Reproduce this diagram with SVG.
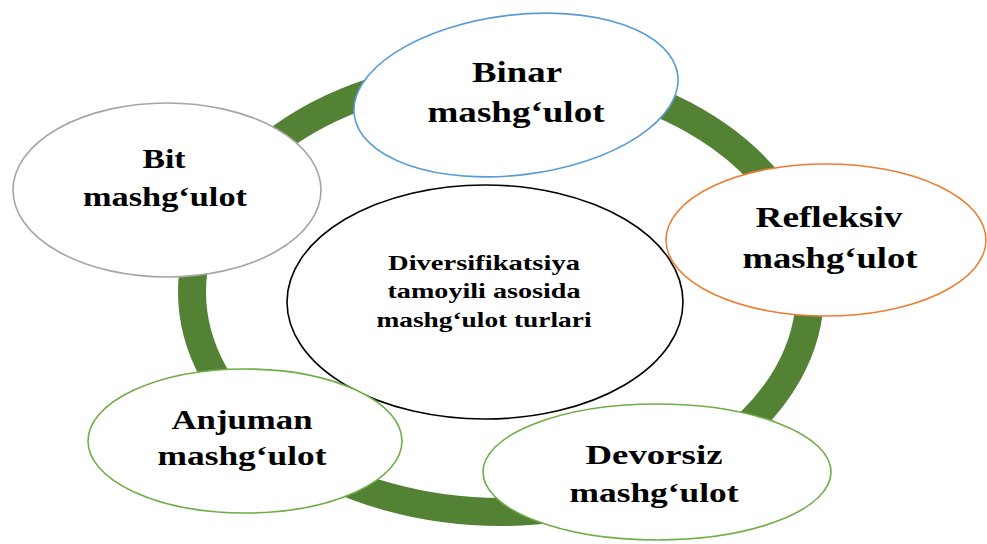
<svg xmlns="http://www.w3.org/2000/svg" width="987" height="544" viewBox="0 0 987 544">
<style>
.node{fill:#ffffff;stroke-width:1.6}
.t{font-family:"Liberation Serif","Times New Roman",serif;font-weight:bold;fill:#000;text-anchor:middle}
.big{font-size:29px}
.mid{font-size:27px}
.sm{font-size:22px}
</style>
<rect width="987" height="544" fill="#ffffff"/>
<g id="connectors">
<ellipse cx="501" cy="292" rx="309" ry="220" fill="none" stroke="#548235" stroke-width="28"/>
</g>
<g id="center">
<ellipse class="node" cx="485" cy="302" rx="198" ry="117" stroke="#000000" stroke-width="1.8"/>
<text class="t sm" x="484" y="270" textLength="192" lengthAdjust="spacingAndGlyphs">Diversifikatsiya</text>
<text class="t sm" x="484" y="298" textLength="193" lengthAdjust="spacingAndGlyphs">tamoyili asosida</text>
<text class="t sm" x="484" y="327" textLength="215" lengthAdjust="spacingAndGlyphs">mashg‘ulot turlari</text>
</g>
<g id="binar">
<ellipse class="node" cx="516" cy="95" rx="163" ry="80" transform="rotate(-7 516 95)" stroke="#5B9BD5"/>
<text class="t big" x="517" y="82" textLength="90" lengthAdjust="spacingAndGlyphs">Binar</text>
<text class="t big" x="516" y="122" textLength="177" lengthAdjust="spacingAndGlyphs">mashg‘ulot</text>
</g>
<g id="refleksiv">
<ellipse class="node" cx="826" cy="240" rx="160" ry="76" stroke="#ED7D31"/>
<text class="t big" x="829" y="227" textLength="147" lengthAdjust="spacingAndGlyphs">Refleksiv</text>
<text class="t big" x="830" y="268" textLength="175" lengthAdjust="spacingAndGlyphs">mashg‘ulot</text>
</g>
<g id="devorsiz">
<ellipse class="node" cx="657" cy="472" rx="174" ry="68" stroke="#70AD47"/>
<text class="t mid" x="654" y="464" textLength="137" lengthAdjust="spacingAndGlyphs">Devorsiz</text>
<text class="t mid" x="654" y="502" textLength="169" lengthAdjust="spacingAndGlyphs">mashg‘ulot</text>
</g>
<g id="anjuman">
<ellipse class="node" cx="245" cy="441" rx="157" ry="72" stroke="#70AD47"/>
<text class="t mid" x="242" y="429" textLength="141" lengthAdjust="spacingAndGlyphs">Anjuman</text>
<text class="t mid" x="242" y="465" textLength="169" lengthAdjust="spacingAndGlyphs">mashg‘ulot</text>
</g>
<g id="bit">
<ellipse class="node" cx="167" cy="190" rx="154" ry="87" stroke="#A5A5A5"/>
<text class="t mid" x="164" y="168" textLength="43" lengthAdjust="spacingAndGlyphs">Bit</text>
<text class="t mid" x="165" y="206" textLength="164" lengthAdjust="spacingAndGlyphs">mashg‘ulot</text>
</g>
</svg>
